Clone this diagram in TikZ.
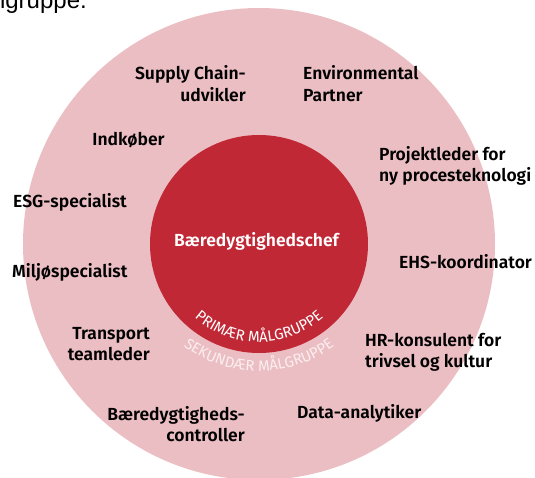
\documentclass[tikz,border=0pt]{standalone}
\usepackage{fontspec}
\setmainfont{Fira Sans}
\newfontfamily\rolefamily{Fira Sans SemiBold}
\newfontfamily\arcfamily{Fira Sans}
\newfontfamily\headfamily{Liberation Sans}
\usetikzlibrary{decorations.text}
\definecolor{outerpink}{RGB}{235,190,195}
\definecolor{innerred}{RGB}{192,40,54}
\definecolor{palewhite}{RGB}{251,238,240}
\newcommand\arcfont{\arcfamily\fontsize{15}{15}\selectfont}

\begin{document}
\begin{tikzpicture}[x=1pt,y=1pt,
    role/.style={font=\rolefamily\fontsize{17.5}{21.5}\selectfont, inner sep=0pt},
    chef/.style={font=\rolefamily\fontsize{17.5}{20}\selectfont, text=white, inner sep=0pt}]
  \def\rout{236};
  \def\rin{109};
  \useasboundingbox (-259,-233) rectangle (276,244);
  \clip (-259,-233) rectangle (276,244);
  % the two groups
  \fill[outerpink] (0,0) circle (\rout);
  \fill[innerred] (0,0) circle (\rin);
  \node[chef] (chef) at (-2.5,3) {Bæredygtighedschef};
  % curved labels
  \path[decorate, decoration={text along path, text align=center, text color=white,
      text={|\arcfont|PRIMÆR MÅLGRUPPE}}] (200:98) arc[start angle=200, end angle=340, radius=98];
  \path[decorate, decoration={text along path, text align=center, text color=palewhite,
      text={|\arcfont|SEKUNDÆR MÅLGRUPPE}}] (200:127) arc[start angle=200, end angle=340, radius=127];
  % secondary roles
  \node[role, anchor=east, align=right] (supply) at (-13,160.5) {Supply Chain-\\udvikler};
  \node[role, anchor=west, align=left] (env) at (44,160.5) {Environmental\\Partner};
  \node[role] (indkob) at (-130.5,104) {Indkøber};
  \node[role, anchor=west, align=left] (projekt) at (120,78) {Projektleder for\\ny procesteknologi};
  \node[role, anchor=west] (esg) at (-246,42) {ESG-specialist};
  \node[role, anchor=west] (ehs) at (140,-18) {EHS-koordinator};
  \node[role, anchor=west] (miljo) at (-247,-28) {Miljøspecialist};
  \node[role, anchor=east, align=right] (transport) at (-109,-100) {Transport\\teamleder};
  \node[role, anchor=west, align=left] (hr) at (106,-108.5) {HR-konsulent for\\trivsel og kultur};
  \node[role, anchor=east, align=right] (controller) at (-14,-180) {Bæredygtigheds-\\controller};
  \node[role, anchor=west] (data) at (38,-169) {Data-analytiker};
  % cut-off line above
  \node[font=\headfamily\fontsize{24}{24}\selectfont, anchor=base east, inner sep=0pt] (head) at (-172,235) {lgruppe.};
\end{tikzpicture}
\end{document}
